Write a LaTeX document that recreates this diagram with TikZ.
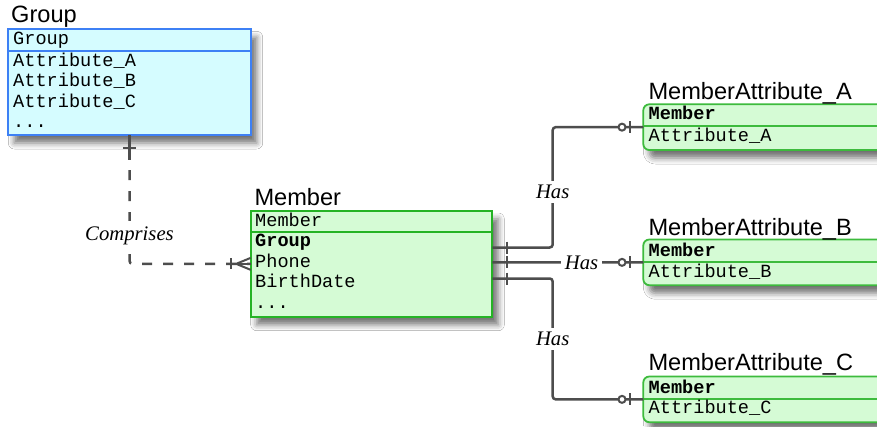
\documentclass[tikz,border=0pt]{standalone}
\usepackage{fontspec}
\setmainfont{Liberation Serif}
\setsansfont{Liberation Sans}
\setmonofont{Liberation Mono}
\usetikzlibrary{shadows.blur,calc}
\definecolor{lineC}{HTML}{4D4D4D}
\definecolor{gFill}{HTML}{D5FCFF}
\definecolor{gDraw}{HTML}{3D80F5}
\definecolor{mFill}{HTML}{D5FBD5}
\definecolor{mDraw}{HTML}{25B325}
\definecolor{aDraw}{HTML}{3DBB3D}
\tikzset{
  ent/.style={rectangle, anchor=north west, inner sep=0pt, outer sep=0pt, line width=1.8pt,
    blur shadow={shadow xshift=6pt, shadow yshift=-8pt, shadow blur radius=6pt, shadow opacity=55}},
  grp/.style={ent, draw=gDraw, fill=gFill},
  mem/.style={ent, draw=mDraw, fill=mFill},
  att/.style={ent, draw=aDraw, fill=mFill, rounded corners=6pt},
  divG/.style={draw=gDraw, line width=1.8pt},
  divM/.style={draw=mDraw, line width=1.8pt},
  divA/.style={draw=aDraw, line width=1.8pt},
  etitle/.style={anchor=base west, inner sep=0pt, font=\sffamily\fontsize{23.6}{26}\selectfont},
  field/.style={anchor=base west, inner sep=0pt, font=\ttfamily\fontsize{18.6}{20}\selectfont},
  keyfield/.style={anchor=base west, inner sep=0pt, font=\ttfamily\bfseries\fontsize{18.6}{20}\selectfont},
  conn/.style={draw=lineC, line width=2.5pt, rounded corners=3pt},
  markl/.style={draw=lineC, line width=2pt},
  lbl/.style={fill=white, inner xsep=4pt, inner ysep=4pt, font=\itshape\fontsize{20.7}{22}\selectfont}
}
\begin{document}
\begin{tikzpicture}[x=1pt,y=-1pt]
\useasboundingbox (0,0) rectangle (877,426);
\clip (0,0) rectangle (877,426);
\fill[white] (0,0) rectangle (877,426);

% Group entity
\node[grp, minimum width=242.4pt, minimum height=105.7pt] (G) at (8.3,29.3) {};
\draw[divG] (G.west |- 0,50.7) -- (G.east |- 0,50.7);
\node[etitle] (Gt) at (11,22.7) {Group};
\node[field] (G0) at (13,44.8) {Group};
\node[field] (G1) at (13,66) {Attribute\_A};
\node[field] (G2) at (13,86.5) {Attribute\_B};
\node[field] (G3) at (13,107) {Attribute\_C};
\node[field] (G4) at (13,127.5) {...};

% Member entity
\node[mem, minimum width=241.6pt, minimum height=105.7pt] (M) at (250.7,211) {};
\draw[divM] (M.west |- 0,231.7) -- (M.east |- 0,231.7);
\node[etitle] (Mt) at (254.3,205) {Member};
\node[field] (M0) at (255,226) {Member};
\node[keyfield] (M1) at (255,246.7) {Group};
\node[field] (M2) at (255,267.2) {Phone};
\node[field] (M3) at (255,287.7) {BirthDate};
\node[field] (M4) at (255,308.2) {...};

% MemberAttribute_A
\node[att, minimum width=300pt, minimum height=45.7pt] (MA) at (643.3,104.3) {};
\draw[divA] (MA.west |- 0,126) -- (MA.east |- 0,126);
\node[etitle] (MAt) at (648.3,99.3) {MemberAttribute\_A};
\node[keyfield] (MA0) at (648.5,119.3) {Member};
\node[field] (MA1) at (648.5,141) {Attribute\_A};

% MemberAttribute_B
\node[att, minimum width=300pt, minimum height=45.7pt] (MB) at (643.3,239.5) {};
\draw[divA] (MB.west |- 0,262.3) -- (MB.east |- 0,262.3);
\node[etitle] (MBt) at (648.3,235) {MemberAttribute\_B};
\node[keyfield] (MB0) at (648.5,256.3) {Member};
\node[field] (MB1) at (648.5,277) {Attribute\_B};

% MemberAttribute_C
\node[att, minimum width=300pt, minimum height=45.7pt] (MC) at (643.3,376.5) {};
\draw[divA] (MC.west |- 0,399) -- (MC.east |- 0,399);
\node[etitle] (MCt) at (648.3,370.5) {MemberAttribute\_C};
\node[keyfield] (MC0) at (648.5,393.3) {Member};
\node[field] (MC1) at (648.5,413.7) {Attribute\_C};

% Group -> Member (Comprises)
\draw[conn, dash pattern=on 10pt off 11pt, dash phase=7pt] (G.south) |- (M.west);
\draw[conn] (G.south) -- ++(0,25);
\draw[conn] (M.west) -- ++(-22,0);
\draw[markl] ($(G.south)+(-6.5,13)$) -- ($(G.south)+(6.5,13)$);
\draw[markl] ($(M.west)+(-20,-5.5)$) -- ($(M.west)+(-20,5.5)$);
\draw[markl] ($(M.west)+(-14.5,0)$) -- ($(M.west)+(0,-6)$);
\draw[markl] ($(M.west)+(-14.5,0)$) -- ($(M.west)+(0,6)$);

% Member -> attributes
\coordinate (jx) at (552.7,0);
\coordinate (ea) at (M.east |- 0,247.5);
\coordinate (eb) at (M.east |- 0,262.35);
\coordinate (ec) at (M.east |- 0,278.5);
\draw[conn] (ea) -| (jx |- MA.west) -- (MA.west);
\draw[conn] (eb) -- (MB.west);
\draw[conn] (ec) -| (jx |- MC.west) -- (MC.west);
\foreach \e in {ea,eb,ec}
  \draw[markl] ($(\e)+(14.2,-6)$) -- ($(\e)+(14.2,6)$);
\foreach \t in {MA,MB,MC}{
  \draw[markl] ($(\t.west)+(-13.3,-6)$) -- ($(\t.west)+(-13.3,6)$);
  \draw[markl, fill=white] ($(\t.west)+(-21.3,0)$) circle (3.5pt);
}

% Labels
\node[lbl, inner ysep=6pt] (lc) at (129.5,236) {Comprises};
\node[lbl] (la) at (552.7,192) {Has};
\node[lbl] (lb) at (581.5,263) {Has};
\node[lbl] (lcc) at (552.7,339) {Has};
\end{tikzpicture}
\end{document}
